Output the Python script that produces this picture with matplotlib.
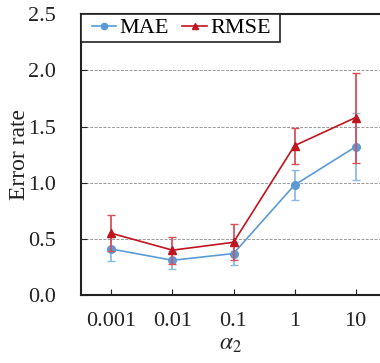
import matplotlib
matplotlib.use('Agg')
import matplotlib.pyplot as plt
from matplotlib.lines import Line2D
from matplotlib.patches import Rectangle

plt.rcParams['font.family'] = ['Liberation Serif', 'DejaVu Serif']
plt.rcParams['mathtext.fontset'] = 'stix'

alphas = ['0.001', '0.01', '0.1', '1', '10']
mae = [0.41, 0.31, 0.37, 0.98, 1.32]
mae_err = [0.11, 0.08, 0.10, 0.13, 0.30]
rmse = [0.55, 0.40, 0.47, 1.33, 1.58]
rmse_err = [0.16, 0.12, 0.16, 0.16, 0.40]

blue = '#5B9BD5'
red = '#C0141E'

fig = plt.figure(figsize=(3.8, 3.63), dpi=100)
ax = fig.add_axes([0.213, 0.187, 0.787, 0.774])
x = range(len(alphas))

ax.errorbar(x, mae, yerr=mae_err, color=blue, marker='o', markersize=5.5,
            linewidth=1.2, elinewidth=1.3, capsize=3, ecolor='#8DBBE6',
            zorder=3)
ax.errorbar(x, rmse, yerr=rmse_err, color=red, marker='^', markersize=5.5,
            linewidth=1.2, elinewidth=1.3, capsize=3, ecolor='#D9505A',
            zorder=4)

ax.set_ylim(0, 2.5)
ax.set_yticks([0, 0.5, 1.0, 1.5, 2.0, 2.5])
ax.set_yticklabels(['0.0', '0.5', '1.0', '1.5', '2.0', '2.5'])
ax.set_xlim(-0.5, 4.4)
ax.set_xticks(list(x))
ax.set_xticklabels(alphas)
ax.tick_params(axis='both', direction='in', labelsize=16, colors='#222222')
ax.tick_params(axis='x', length=4, pad=12)
ax.tick_params(axis='y', length=4, pad=18)
for yv in [0.5, 1.0, 1.5, 2.0]:
    ax.axhline(yv, color='#999999', linestyle=(0, (3, 1.5)), linewidth=0.7, zorder=1)

for s in ['left', 'bottom', 'top']:
    ax.spines[s].set_linewidth(1.5)
    ax.spines[s].set_color('#222222')
ax.spines['right'].set_visible(False)

ax.set_ylabel('Error rate', fontsize=17, color='#222222')
ax.yaxis.set_label_coords(-0.17, 0.5)
ax.set_xlabel(r'$\alpha_2$', fontsize=17, color='#222222', labelpad=2)

# legend box
ax.add_patch(Rectangle((0, 0.9), 0.666, 0.1, transform=ax.transAxes,
                       facecolor='white', edgecolor='#222222', linewidth=1.2,
                       zorder=5, clip_on=False))
handles = [Line2D([], [], color=blue, marker='o', markersize=4.5, linewidth=1.2),
           Line2D([], [], color=red, marker='^', markersize=4.5, linewidth=1.2)]
leg = ax.legend(handles, ['MAE', 'RMSE'], loc='center left',
                bbox_to_anchor=(0.036, 0.95), borderaxespad=0, ncol=2,
                fontsize=16, frameon=False, handlelength=1.1,
                handletextpad=0.15, columnspacing=0.6, borderpad=0)
leg.set_zorder(6)

fig.savefig('out.png', dpi=100)
